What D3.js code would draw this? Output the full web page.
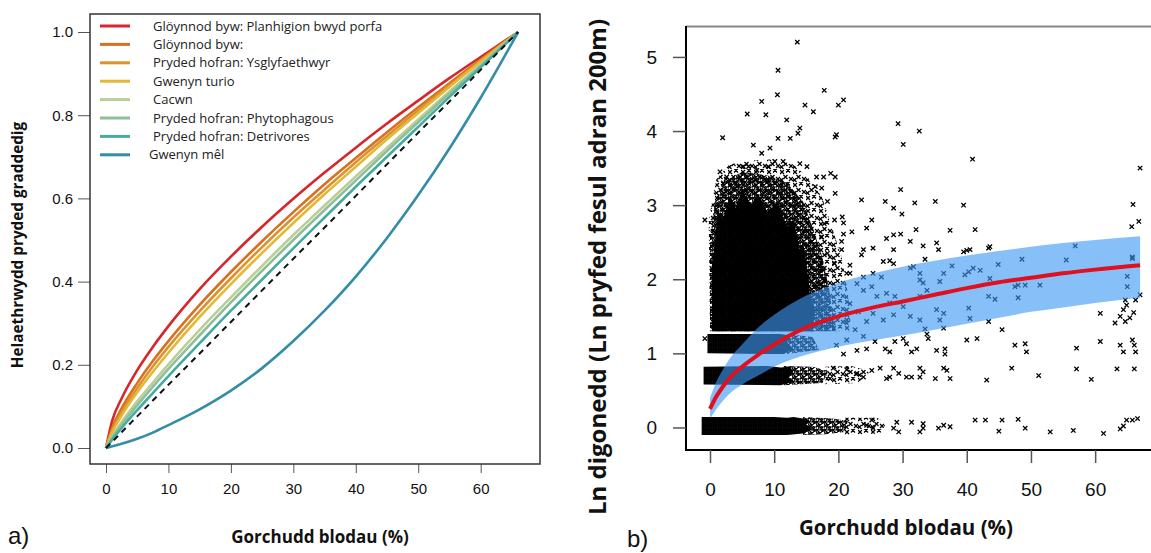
<!DOCTYPE html>
<html lang="cy">
<head>
<meta charset="UTF-8"/>
<title>Gorchudd blodau</title>
<script src="https://d3js.org/d3.v7.min.js" charset="utf-8"></script>
<style type="text/css">
    body { margin: 0; background: #fff; }
    svg { display: block; }
    .tick text { font-family: "Liberation Sans", Arial, sans-serif; fill: #111; }
    .tick line { stroke: #555; }
    .lab { font-family: "Open Sans", "Noto Sans", sans-serif; font-weight: bold; fill: #111; }
    .leg { font-family: "Open Sans", "Noto Sans", sans-serif; font-size: 13px; fill: #222; }
    .panel { font-family: "Liberation Sans", Arial, sans-serif; font-size: 24px; fill: #111; }
</style>
</head>
<body>
<script>
// ---- panel a) data: graded insect abundance vs flower cover ----
var coverA = [0, 1, 2.5, 5, 7.5, 10, 15, 20, 25, 30, 35, 40, 45, 50, 55, 60, 66];
var groupNames = [
    "Glöynnod byw: Planhigion bwyd porfa",
    "Glöynnod byw:",
    "Pryded hofran: Ysglyfaethwyr",
    "Gwenyn turio",
    "Cacwn",
    "Pryded hofran: Phytophagous",
    "Pryded hofran: Detrivores",
    "Gwenyn mêl"
];
var groupColours = ["#d7262a", "#d8701f", "#db922e", "#e3b834", "#bccd98", "#8dbf98", "#47aba1", "#338da6"];
var redVals    = [0, 0.066, 0.119, 0.187, 0.243, 0.293, 0.382, 0.460, 0.532, 0.599, 0.662, 0.722, 0.780, 0.835, 0.889, 0.940, 1];
var orangeVals = [0, 0.049, 0.095, 0.156, 0.209, 0.257, 0.344, 0.423, 0.497, 0.567, 0.634, 0.697, 0.759, 0.819, 0.877, 0.934, 1];
var amberVals  = [0, 0.043, 0.086, 0.144, 0.196, 0.243, 0.329, 0.408, 0.483, 0.554, 0.621, 0.687, 0.750, 0.812, 0.872, 0.931, 1];
var yellowVals = [0, 0.038, 0.078, 0.134, 0.183, 0.229, 0.315, 0.394, 0.469, 0.541, 0.610, 0.676, 0.742, 0.805, 0.868, 0.929, 1];
var cacwnVals  = [0, 0.028, 0.062, 0.112, 0.157, 0.201, 0.284, 0.362, 0.438, 0.512, 0.583, 0.653, 0.722, 0.790, 0.857, 0.922, 1];
var phytoVals  = [0, 0.025, 0.056, 0.103, 0.147, 0.190, 0.271, 0.350, 0.426, 0.500, 0.572, 0.643, 0.714, 0.783, 0.852, 0.919, 1];
var detriVals  = [0, 0.020, 0.048, 0.091, 0.132, 0.173, 0.252, 0.330, 0.405, 0.480, 0.554, 0.628, 0.700, 0.772, 0.844, 0.915, 1];
var melVals    = [0, 0.004, 0.010, 0.022, 0.037, 0.055, 0.093, 0.138, 0.192, 0.257, 0.330, 0.412, 0.505, 0.608, 0.720, 0.842, 1];
var diagVals   = [0, 0.015, 0.038, 0.076, 0.114, 0.152, 0.227, 0.303, 0.379, 0.455, 0.530, 0.606, 0.682, 0.758, 0.833, 0.909, 1];
var groupVals = [redVals, orangeVals, amberVals, yellowVals, cacwnVals, phytoVals, detriVals, melVals];
var ticksXA = [0, 10, 20, 30, 40, 50, 60];
var ticksYA = [0, 0.2, 0.4, 0.6, 0.8, 1.0];

// ---- panel b) data: ln abundance vs flower cover ----
var fitX     = [0, 1, 2, 3, 5, 7.5, 10, 15, 20, 25, 30, 35, 40, 45, 50, 55, 60, 67];
var fitMean  = [0.25, 0.42, 0.55, 0.66, 0.82, 0.98, 1.12, 1.35, 1.50, 1.61, 1.70, 1.79, 1.88, 1.96, 2.02, 2.08, 2.13, 2.19];
var fitUpper = [0.40, 0.62, 0.78, 0.92, 1.12, 1.35, 1.52, 1.78, 1.95, 2.07, 2.17, 2.25, 2.32, 2.38, 2.44, 2.49, 2.53, 2.58];
var fitLower = [0.12, 0.25, 0.36, 0.45, 0.58, 0.70, 0.82, 0.98, 1.09, 1.17, 1.24, 1.32, 1.40, 1.48, 1.56, 1.62, 1.68, 1.75];
var ticksXB = [0, 10, 20, 30, 40, 50, 60];
var ticksYB = [0, 1, 2, 3, 4, 5];

// areas where the sampled points overlap (cover %, ln abundance), three crowding levels
var crowdSolid = [
    [[0.3, 1.3], [0.3, 2.2], [0.8, 2.5], [1.2, 2.9], [2, 2.8], [3, 3.1], [4, 2.95], [5, 3.2], [6.5, 3.0], [7.5, 3.15],
     [9, 2.9], [10.5, 3.05], [12, 2.7], [13, 2.8], [14, 2.4], [14.5, 2.5], [15.2, 2.1], [15.5, 1.8], [16.3, 1.6], [16, 1.3]],
    [[-0.4, 1.0], [-0.4, 1.26], [11, 1.26], [12.5, 1.24], [12, 1.15], [13, 1.06], [11.5, 0.99]],
    [[-1.0, 0.58], [-1.0, 0.82], [9, 0.83], [11, 0.81], [12.5, 0.82], [13, 0.75], [12.2, 0.68], [13.2, 0.62], [11, 0.57]],
    [[-1.3, -0.1], [-1.3, 0.14], [10, 0.14], [12, 0.13], [13, 0.14], [14.5, 0.12], [15.5, 0.1], [15, 0.04], [16, -0.02], [14.5, -0.08], [12, -0.1]]
];
var crowdMid = [
    [[0, 1.3], [0, 2.6], [0.8, 3.05], [2, 3.3], [5, 3.45], [9, 3.4], [12, 3.3], [14.5, 3.05], [16, 2.7], [17.5, 2.3], [18.5, 1.9], [19.5, 1.3]],
    [[12, 0.99], [12, 1.26], [16, 1.22], [17, 1.05]],
    [[11.5, 0.57], [11.5, 0.83], [16, 0.82], [18.5, 0.76], [17.5, 0.6]],
    [[14.5, -0.1], [14.5, 0.14], [19, 0.12], [21.5, 0.09], [21, -0.06], [18, -0.09]]
];
var crowdLight = [
    [[0, 1.3], [-0.2, 2.8], [1, 3.35], [3, 3.55], [6, 3.6], [10, 3.62], [13, 3.55], [15.5, 3.35], [17.5, 3.1], [19, 2.7], [20.5, 2.3], [21.5, 1.8], [22, 1.3]],
    [[18, 0.58], [18, 0.82], [22, 0.83], [25, 0.76], [23, 0.6]],
    [[21, -0.1], [21, 0.13], [26, 0.13], [27.5, 0.06], [26.5, -0.08]]
];
// individual sections
var sections = [
    [13.6, 5.20], [10.6, 4.82], [17.8, 4.55], [10.5, 4.49], [8.05, 4.40], [5.8, 4.23], [8.7, 4.22], [14.8, 4.35],
    [16.1, 4.26], [20.0, 4.35], [20.8, 4.42], [1.97, 3.91], [6.75, 3.81], [8.05, 3.70], [9.35, 3.77], [10.6, 3.90],
    [12.5, 3.90], [14.0, 4.04], [11.95, 4.15], [13.7, 3.97], [19.5, 3.92], [19.7, 3.95], [29.3, 4.10], [32.6, 4.00],
    [30.1, 3.82], [40.9, 3.62], [67.0, 3.50], [-0.8, 2.80], [29.7, 3.21], [23.6, 3.07], [27.3, 3.05], [28.6, 2.96],
    [29.9, 2.88], [31.9, 3.03], [35.1, 3.05], [39.5, 3.00], [65.9, 3.01], [66.8, 2.78], [65.7, 2.71], [41.3, 2.67],
    [37.4, 2.66], [32.1, 2.67], [25.2, 2.80], [24.4, 2.69], [22.1, 2.64], [20.8, 2.76], [27.5, 2.55], [28.6, 2.60],
    [29.7, 2.61], [25.4, 2.42], [28.6, 2.40], [31.2, 2.51], [33.2, 2.45], [35.3, 2.49], [35.6, 2.40], [33.5, 2.27],
    [39.5, 2.37], [40.0, 2.39], [40.5, 2.40], [43.4, 2.42], [43.6, 2.44], [20.5, 2.51], [20.5, 2.40], [23.6, 2.33],
    [23.9, 2.40], [27.0, 2.24], [28.0, 2.25], [28.6, 2.21], [56.9, 2.45], [55.5, 2.26], [48.6, 2.27], [44.9, 2.20],
    [65.8, 2.30], [37.7, 2.18], [31.2, 2.15], [31.7, 2.17], [25.4, 2.08], [26.7, 2.03], [23.9, 2.03], [21.8, 2.19],
    [21.3, 2.08], [36.4, 2.08], [35.8, 1.97], [32.7, 2.08], [32.7, 1.99], [33.2, 1.95], [39.7, 2.06], [40.3, 2.10],
    [41.0, 2.15], [42.1, 2.12], [43.6, 2.01], [47.5, 1.90], [48.0, 1.92], [49.1, 1.92], [51.4, 1.92], [48.0, 1.75],
    [43.4, 1.77], [44.4, 1.73], [40.3, 1.61], [40.5, 1.47], [43.4, 1.43], [45.5, 1.32], [40.0, 1.18], [41.6, 1.20],
    [47.5, 1.11], [49.1, 1.13], [49.3, 1.02], [60.8, 1.54], [63.1, 1.41], [63.9, 1.50], [64.4, 1.59], [64.9, 1.65],
    [65.4, 1.48], [64.7, 1.43], [66.0, 1.55], [66.3, 1.72], [64.7, 1.72], [65.0, 2.04], [65.0, 1.90], [65.8, 2.28],
    [67.0, 1.79], [57.1, 1.07], [60.8, 1.16], [63.9, 1.11], [64.4, 1.02], [65.8, 1.18], [66.3, 1.02], [66.1, 1.11],
    [57.1, 0.79], [63.4, 0.79], [66.1, 0.79], [59.4, 0.65], [51.2, 0.70], [47.0, 0.80], [43.1, 0.64], [34.0, 1.20],
    [36.4, 1.34], [33.5, 1.33], [33.8, 1.26], [31.4, 1.02], [32.2, 1.06], [35.3, 1.04], [36.6, 1.06], [36.6, 0.99],
    [28.8, 1.16], [30.1, 1.20], [30.6, 1.13], [27.3, 1.06], [28.0, 1.02], [32.7, 0.80], [33.2, 0.75], [32.7, 0.68],
    [35.1, 0.66], [36.4, 0.80], [37.4, 0.66], [36.9, 0.77], [28.6, 0.80], [29.4, 0.73], [28.0, 0.68], [26.5, 0.80],
    [27.5, 0.66], [30.6, 0.68], [31.4, 0.68], [41.3, 0.10], [42.9, 0.10], [45.5, 0.10], [48.0, 0.11], [49.1, -0.01],
    [45.0, -0.05], [53.0, -0.06], [56.6, -0.04], [61.3, -0.08], [63.9, -0.02], [64.4, 0.02], [64.9, 0.10], [65.8, 0.10],
    [66.6, 0.12], [37.4, 0.01], [36.4, 0.03], [35.6, -0.01], [33.2, -0.01], [32.7, -0.06], [33.2, 0.05], [31.4, 0.07],
    [29.1, 0.07], [28.6, -0.01], [29.4, -0.06], [25.2, 0.10], [25.4, -0.01], [24.4, 0.03], [21.8, 2.08], [22.9, 1.94],
    [23.9, 1.85], [25.2, 1.90], [26.0, 1.77], [27.5, 1.81], [28.0, 1.68], [28.8, 1.77], [30.1, 1.63], [31.2, 1.50],
    [32.7, 1.45], [32.7, 1.77], [33.8, 1.85], [35.3, 1.59], [35.8, 1.45], [36.4, 1.54], [28.6, 1.52], [27.0, 1.45],
    [25.4, 1.54], [24.4, 1.43], [23.1, 1.56], [21.8, 1.67], [21.3, 1.45], [22.6, 1.32], [23.9, 1.23], [21.3, 1.18],
    [19.7, 1.11], [22.9, 1.04], [24.4, 1.06], [25.7, 1.16], [20.8, 0.99], [19.2, 0.80], [21.3, 0.78], [22.9, 0.73],
    [23.9, 0.68], [25.2, 0.77], [18.7, 0.66], [19.5, 3.38], [18.8, 3.43], [17.8, 2.75], [19.4, 2.80], [20.6, 2.84],
    [19.5, 3.16], [20.8, 2.61], [18.3, 3.05], [17.4, 2.57], [18.3, 2.35], [19.4, 2.21], [17.1, 2.17], [17.8, 1.99],
    [16.6, 1.90], [-0.8, 1.20], [1.56, 3.45], [2.07, 3.30], [2.6, 3.38], [4.7, 3.38], [5.2, 3.52], [6.0, 3.52],
    [7.3, 3.47], [9.1, 3.52], [10.1, 3.59], [11.4, 3.59], [14.0, 3.56], [15.1, 3.52], [16.6, 3.38], [17.7, 3.38],
    [16.4, 3.25], [17.4, 3.23], [4.2, 3.25]
];

var W = 1151, H = 553;
var svg = d3.select("body").append("svg")
    .attr("width", W)
    .attr("height", H);
svg.append("rect").attr("width", W).attr("height", H).attr("fill", "#fff");

// ================= panel a =================
var xA = d3.scaleLinear().domain([-2.56, 69.5]).range([90, 540]);
var yA = d3.scaleLinear().domain([-0.0385, 1.0433]).range([464, 14]);

var gA = svg.append("g");

gA.append("g")
    .attr("transform", "translate(0,464)")
    .call(d3.axisBottom(xA).tickValues(ticksXA).tickSize(9).tickPadding(10).tickFormat(d3.format("d")))
    .call(function (g) { g.select(".domain").remove(); })
    .selectAll("text").style("font-size", "15px");

gA.append("g")
    .attr("transform", "translate(90,0)")
    .call(d3.axisLeft(yA).tickValues(ticksYA).tickSize(12).tickPadding(5).tickFormat(d3.format(".1f")))
    .call(function (g) { g.select(".domain").remove(); })
    .selectAll("text").style("font-size", "15px");

var lineA = d3.line()
    .x(function (d, i) { return xA(coverA[i]); })
    .y(function (d) { return yA(d); })
    .curve(d3.curveMonotoneX);

gA.selectAll("path.grp")
    .data(groupVals)
    .enter()
    .append("path")
    .attr("class", "grp")
    .attr("d", lineA)
    .attr("fill", "none")
    .attr("stroke", function (d, i) { return groupColours[i]; })
    .attr("stroke-width", 2.6);

gA.append("path")
    .attr("d", lineA(diagVals))
    .attr("fill", "none")
    .attr("stroke", "#111")
    .attr("stroke-width", 2)
    .attr("stroke-dasharray", "6,5");

gA.append("rect")
    .attr("x", 90).attr("y", 14).attr("width", 450).attr("height", 450)
    .attr("fill", "none").attr("stroke", "#333").attr("stroke-width", 1.5);

// legend
var leg = gA.selectAll("g.leg")
    .data(groupNames)
    .enter()
    .append("g")
    .attr("transform", function (d, i) { return "translate(0," + (26 + i * 18.4) + ")"; });
leg.append("line")
    .attr("x1", 100).attr("x2", 130)
    .attr("stroke", function (d, i) { return groupColours[i]; })
    .attr("stroke-width", 3);
leg.append("text")
    .attr("class", "leg")
    .attr("x", function (d, i) { return i === 7 ? 149 : 153; })
    .attr("dy", "0.35em")
    .text(function (d) { return d; });

gA.append("text")
    .attr("class", "lab")
    .attr("transform", "translate(23,245) rotate(-90)")
    .attr("text-anchor", "middle")
    .style("font-size", "15.3px")
    .text("Helaethrwydd pryded graddedig");

gA.append("text")
    .attr("class", "lab")
    .attr("x", 320).attr("y", 543)
    .attr("text-anchor", "middle")
    .style("font-size", "17px")
    .text("Gorchudd blodau (%)");

gA.append("text").attr("class", "panel").attr("x", 8).attr("y", 544).text("a)");

// ================= panel b =================
var xB = d3.scaleLinear().domain([-3.74, 68.7]).range([686, 1151]);
var yB = d3.scaleLinear().domain([-0.3, 5.4]).range([449.7, 27.3]);

var gB = svg.append("g");
var defs = svg.append("defs");

defs.append("clipPath").attr("id", "clipB")
    .append("rect").attr("x", 687).attr("y", 27).attr("width", 470).attr("height", 422);

// cross marks for the crowded parts of the scatter
function crossPattern(id, size, spots, arm, sw) {
    var p = defs.append("pattern")
        .attr("id", id)
        .attr("patternUnits", "userSpaceOnUse")
        .attr("width", size).attr("height", size);
    spots.forEach(function (s) {
        p.append("path")
            .attr("d", "M" + (s[0] - arm) + "," + (s[1] - arm) + "L" + (s[0] + arm) + "," + (s[1] + arm) +
                "M" + (s[0] - arm) + "," + (s[1] + arm) + "L" + (s[0] + arm) + "," + (s[1] - arm))
            .attr("stroke", "#000").attr("stroke-width", sw);
    });
}
crossPattern("solid", 5, [[1.2, 1.2], [3.7, 3.7], [3.8, 1.1], [1.1, 3.9]], 1.9, 1.6);
crossPattern("mid", 8, [[1.5, 1.8], [5.5, 4.6], [4.2, 1], [1.2, 6.2], [6.5, 7]], 2, 1.4);
crossPattern("light", 13, [[2, 3], [8, 1.5], [5.5, 8], [11, 10], [1.5, 11]], 2, 1.3);

var clipped = gB.append("g").attr("clip-path", "url(#clipB)");

var poly = d3.line()
    .x(function (d) { return xB(d[0]); })
    .y(function (d) { return yB(d[1]); })
    .curve(d3.curveLinearClosed);

[["light", crowdLight], ["mid", crowdMid], ["solid", crowdSolid]].forEach(function (lv) {
    clipped.selectAll("path.c-" + lv[0])
        .data(lv[1])
        .enter()
        .append("path")
        .attr("class", "c-" + lv[0])
        .attr("d", poly)
        .attr("fill", "url(#" + lv[0] + ")");
});

clipped.selectAll("path.pt")
    .data(sections)
    .enter()
    .append("path")
    .attr("class", "pt")
    .attr("transform", function (d) { return "translate(" + xB(d[0]) + "," + yB(d[1]) + ")"; })
    .attr("d", "M-2.2,-2.2L2.2,2.2M-2.2,2.2L2.2,-2.2")
    .attr("stroke", "#000")
    .attr("stroke-width", 1.3);

// confidence band and fitted curve
var band = d3.area()
    .x(function (d, i) { return xB(fitX[i]); })
    .y0(function (d, i) { return yB(fitLower[i]); })
    .y1(function (d) { return yB(d); })
    .curve(d3.curveMonotoneX);

clipped.append("path")
    .attr("d", band(fitUpper))
    .attr("fill", "#3d97f5")
    .attr("fill-opacity", 0.62);

var fitLine = d3.line()
    .x(function (d, i) { return xB(fitX[i]); })
    .y(function (d) { return yB(d); })
    .curve(d3.curveMonotoneX);

clipped.append("path")
    .attr("d", fitLine(fitMean))
    .attr("fill", "none")
    .attr("stroke", "#e0101e")
    .attr("stroke-width", 4);

// frame
gB.append("line").attr("x1", 686).attr("x2", 1151).attr("y1", 26.5).attr("y2", 26.5)
    .attr("stroke", "#888").attr("stroke-width", 2);
gB.append("line").attr("x1", 686).attr("x2", 686).attr("y1", 26).attr("y2", 451)
    .attr("stroke", "#000").attr("stroke-width", 2);
gB.append("line").attr("x1", 685).attr("x2", 1151).attr("y1", 450).attr("y2", 450)
    .attr("stroke", "#000").attr("stroke-width", 2);

gB.append("g")
    .attr("transform", "translate(0,450)")
    .call(d3.axisBottom(xB).tickValues(ticksXB).tickSize(13).tickPadding(20).tickFormat(d3.format("d")))
    .call(function (g) { g.select(".domain").remove(); })
    .selectAll("text").style("font-size", "19px");

gB.append("g")
    .attr("transform", "translate(686,0)")
    .call(d3.axisLeft(yB).tickValues(ticksYB).tickSize(13).tickPadding(16).tickFormat(d3.format("d")))
    .call(function (g) { g.select(".domain").remove(); })
    .selectAll("text").style("font-size", "19px");

gB.selectAll(".tick line").attr("stroke", "#222").attr("stroke-width", 1.5);

gB.append("text")
    .attr("class", "lab")
    .attr("transform", "translate(606,267) rotate(-90)")
    .attr("text-anchor", "middle")
    .style("font-size", "24px")
    .text("Ln digonedd (Ln pryfed fesul adran 200m)");

gB.append("text")
    .attr("class", "lab")
    .attr("x", 906).attr("y", 535)
    .attr("text-anchor", "middle")
    .style("font-size", "20.5px")
    .text("Gorchudd blodau (%)");

gB.append("text").attr("class", "panel").attr("x", 627).attr("y", 547).text("b)");
</script>
</body>
</html>
